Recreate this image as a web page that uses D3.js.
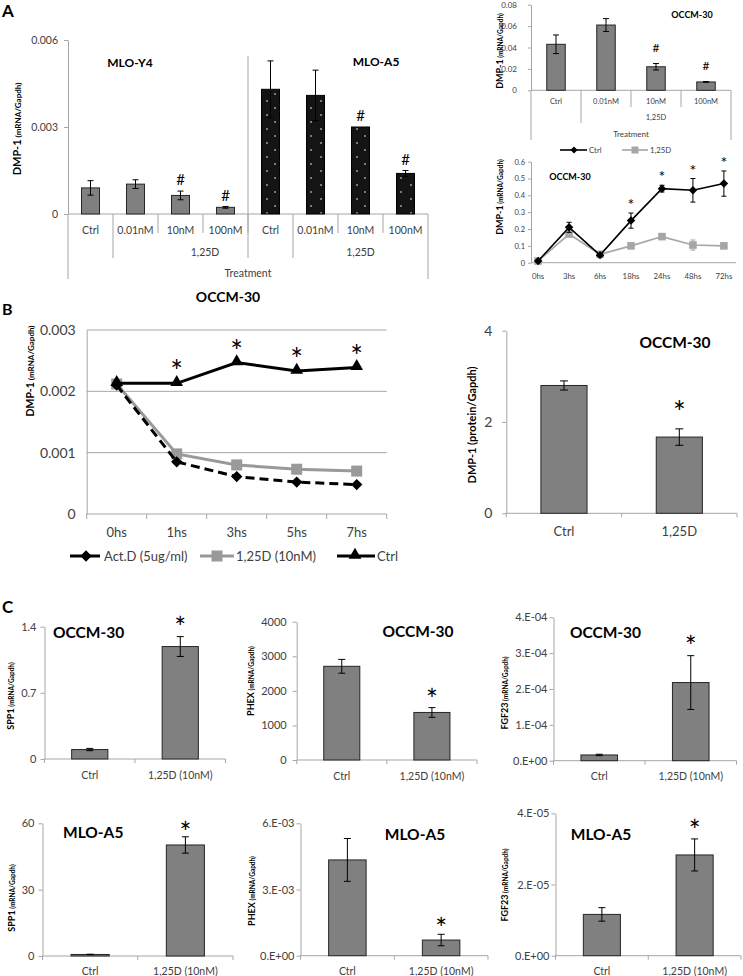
<!DOCTYPE html>
<html><head><meta charset="utf-8">
<script src="https://cdn.jsdelivr.net/npm/d3@7"></script>
<style>body{margin:0;background:#fff}svg{display:block}</style>
</head><body>
<svg id="c" width="743" height="976"></svg>
<script>
// ================= DATA =================
// Panel A (left): MLO-Y4 / MLO-A5 dose response
const aDoseCats = ["Ctrl", "0.01nM", "10nM", "100nM"];
const aY4Vals = [0.00090, 0.00103, 0.00064, 0.00023];
const aY4Errs = [0.00025, 0.00015, 0.00015, 0.00003];
const aY4Marks = ["", "", "#", "#"];
const aA5Vals = [0.00430, 0.00409, 0.00300, 0.00140];
const aA5Errs = [0.00098, 0.00087, 0.0, 0.00010];
const aA5Marks = ["", "", "#", "#"];
const aLeftTicks = [0, 0.003, 0.006];

// Panel A (right top): OCCM-30 dose response
const aOcVals = [0.043, 0.061, 0.022, 0.0078];
const aOcErrs = [0.0087, 0.006, 0.003, 0.0003];
const aOcMarks = ["", "", "#", "#"];
const aOcTicks = [0, 0.02, 0.04, 0.06, 0.08];

// Panel A (right bottom): OCCM-30 time course
const tCats = ["0hs", "3hs", "6hs", "18hs", "24hs", "48hs", "72hs"];
const tCtrlVals = [0.01, 0.21, 0.045, 0.25, 0.44, 0.43, 0.47];
const tCtrlErrs = [0.005, 0.03, 0.01, 0.045, 0.02, 0.07, 0.075];
const t125Vals = [0.01, 0.17, 0.05, 0.10, 0.155, 0.105, 0.10];
const t125Errs = [0.005, 0.01, 0.01, 0.01, 0.01, 0.03, 0.01];
const tStars = ["", "", "", "*", "*", "*", "*"];
const tTicks = [0, 0.1, 0.2, 0.3, 0.4, 0.5, 0.6];

// Panel B (left): mRNA decay
const bCats = ["0hs", "1hs", "3hs", "5hs", "7hs"];
const bActD = [0.00210, 0.00085, 0.00061, 0.00052, 0.00048];
const b125D = [0.00212, 0.00098, 0.00080, 0.00073, 0.00070];
const bCtrl = [0.00213, 0.00213, 0.00247, 0.00233, 0.00239];
const bStars = ["", "*", "*", "*", "*"];
const bTicks = [0, 0.001, 0.002, 0.003];

// Panel B (right): protein
const pCats = ["Ctrl", "1,25D"];
const pVals = [2.80, 1.67];
const pErrs = [0.10, 0.18];
const pStars = ["", "*"];
const pTicks = [0, 2, 4];

// Panel C
const cCats = ["Ctrl", "1,25D (10nM)"];
const cStars = ["", "*"];
const spp1OcVals = [0.10, 1.19], spp1OcErrs = [0.012, 0.105], spp1OcTicks = [0, 0.7, 1.4];
const phexOcVals = [2710, 1375], phexOcErrs = [200, 140], phexOcTicks = [0, 1000, 2000, 3000, 4000];
const fgfOcVals = [1.6e-5, 2.18e-4], fgfOcErrs = [0.2e-5, 0.75e-4], fgfOcTicks = [0, 1e-4, 2e-4, 3e-4, 4e-4];
const spp1A5Vals = [0.7, 50.2], spp1A5Errs = [0.1, 3.7], spp1A5Ticks = [0, 30, 60];
const phexA5Vals = [4.34e-3, 0.71e-3], phexA5Errs = [0.97e-3, 0.26e-3], phexA5Ticks = [0, 3e-3, 6e-3];
const fgfA5Vals = [1.16e-5, 2.83e-5], fgfA5Errs = [0.19e-5, 0.45e-5], fgfA5Ticks = [0, 2e-5, 4e-5];

// ================= DRAWING =================
const FONT = "Lato, 'Open Sans', sans-serif";
const AX = "#a6a6a6", TX = "#404040", BAR = "#808080", BST = "#262626";
const svg = d3.select("#c").attr("font-family", FONT);

function txt(g, x, cy, s, fs, o = {}) {
  return g.append("text").attr("x", x).attr("y", cy + 0.35 * fs)
    .attr("font-size", fs).attr("font-weight", o.bold ? "bold" : "normal")
    .attr("fill", o.fill || "#000").attr("text-anchor", o.anchor || "middle").text(s);
}
function star(g, x, cy, fs, s = "*") {
  g.append("text").attr("x", x).attr("y", cy + 0.57 * fs).attr("font-size", fs)
    .attr("text-anchor", "middle").attr("fill", "#000").text(s);
}
function hash(g, x, cy, fs, s = "#") {
  g.append("text").attr("x", x).attr("y", cy + 0.36 * fs).attr("font-size", fs)
    .attr("text-anchor", "middle").attr("fill", "#000").text(s);
}
function line(g, x1, y1, x2, y2, c = AX, w = 1) {
  g.append("line").attr("x1", x1).attr("y1", y1).attr("x2", x2).attr("y2", y2)
    .attr("stroke", c).attr("stroke-width", w);
}
function yLabel(g, cx, cy, parts, mainFs) {
  const t = g.append("text").attr("transform", `translate(${cx},${cy}) rotate(-90)`)
    .attr("y", 0.35 * mainFs).attr("text-anchor", "middle").attr("font-weight", "bold").attr("fill", "#000");
  parts.forEach(p => t.append("tspan").attr("font-size", p[1]).text(p[0]));
}
function yAxis(g, y, x, ticks, fmt, fs, size, pad) {
  const a = g.append("g").attr("transform", `translate(${x},0)`)
    .call(d3.axisLeft(y).tickValues(ticks).tickFormat(fmt).tickSize(size).tickSizeOuter(0).tickPadding(pad));
  a.attr("font-family", FONT).attr("font-size", fs);
  a.select(".domain").attr("stroke", AX);
  a.selectAll(".tick line").attr("stroke", AX);
  a.selectAll(".tick text").attr("fill", TX);
  return a;
}
function errBar(g, cx, y, v, e, cap, c = "#000", w = 1) {
  if (!e) return;
  line(g, cx, y(v + e), cx, y(Math.max(0, v - e)), c, w);
  line(g, cx - cap / 2, y(v + e), cx + cap / 2, y(v + e), c, w);
  line(g, cx - cap / 2, y(Math.max(0, v - e)), cx + cap / 2, y(Math.max(0, v - e)), c, w);
}
const expFmt = d => {
  if (d === 0) return "0.E+00";
  const e = Math.floor(Math.log10(d) + 1e-9);
  const m = Math.round(d / Math.pow(10, e));
  return m + ".E" + (e < 0 ? "-" : "+") + String(Math.abs(e)).padStart(2, "0");
};

// panel letters
txt(svg, 2, 11, "A", 17, {bold: true, anchor: "start"});
txt(svg, 2, 309, "B", 16, {bold: true, anchor: "start"});
txt(svg, 2, 607, "C", 17, {bold: true, anchor: "start"});

// pattern for MLO-A5 bars
const defs = svg.append("defs");
const pat = defs.append("pattern").attr("id", "dots").attr("patternUnits", "userSpaceOnUse")
  .attr("x", 262).attr("y", 0).attr("width", 18).attr("height", 14);
pat.append("rect").attr("width", 18).attr("height", 14).attr("fill", "#141414");
pat.append("circle").attr("cx", 5).attr("cy", 3).attr("r", 0.8).attr("fill", "#fff");
pat.append("circle").attr("cx", 13).attr("cy", 10).attr("r", 0.8).attr("fill", "#fff");

// ---------- Panel A left ----------
(function () {
  const g = svg.append("g");
  const keys = [...aDoseCats.map(c => "Y4|" + c), ...aDoseCats.map(c => "A5|" + c)];
  const vals = [...aY4Vals, ...aA5Vals], errs = [...aY4Errs, ...aA5Errs], marks = [...aY4Marks, ...aA5Marks];
  const x = d3.scaleBand().domain(keys).range([68, 428]).paddingInner(0.6).paddingOuter(0.3);
  const y = d3.scaleLinear().domain([0, 0.006]).range([214, 40]);
  yAxis(g, y, 68, aLeftTicks, d => d === 0 ? "0" : d3.format(".3f")(d), 10.5, 4, 6);
  line(g, 68, 214, 68, 279);
  line(g, 68, 214, 428, 214);
  const st = x.step();
  for (let i = 1; i <= 8; i++) {
    const xx = 68 + i * st;
    let y2 = 233;
    if (i === 1 || i === 5) y2 = 258;
    if (i === 8) y2 = 279;
    line(g, xx, 214, xx, y2);
  }
  line(g, 68 + 4 * st, 56, 68 + 4 * st, 258);
  g.selectAll("rect.bar").data(vals).join("rect").attr("class", "bar")
    .attr("x", (d, i) => x(keys[i])).attr("width", x.bandwidth())
    .attr("y", d => y(d)).attr("height", d => 214 - y(d))
    .attr("fill", (d, i) => i < 4 ? BAR : "url(#dots)")
    .attr("stroke", (d, i) => i < 4 ? BST : "#000").attr("stroke-width", 1);
  vals.forEach((v, i) => {
    const cx = x(keys[i]) + x.bandwidth() / 2;
    errBar(g, cx, y, v, errs[i], 6);
    if (marks[i]) hash(g, cx, y(v + errs[i]) - 11, 15, marks[i]);
  });
  keys.forEach((k, i) => txt(g, x(k) + x.bandwidth() / 2, 230, aDoseCats[i % 4], 10.5, {fill: TX}));
  txt(g, 205, 252, "1,25D", 10.5, {fill: TX});
  txt(g, 68 + 6.5 * st, 252, "1,25D", 10.5, {fill: TX});
  txt(g, 248, 273, "Treatment", 10.5, {fill: TX});
  txt(g, 130, 63, "MLO-Y4", 12, {bold: true});
  txt(g, 376, 62, "MLO-A5", 12, {bold: true});
  yLabel(g, 17, 129, [["DMP-1", 11], [" (mRNA/Gapdh)", 8]], 11);
})();

// ---------- Panel A right top ----------
(function () {
  const g = svg.append("g");
  const x = d3.scaleBand().domain(aDoseCats).range([531, 731]).paddingInner(0.63).paddingOuter(0.315);
  const y = d3.scaleLinear().domain([0, 0.08]).range([90.3, 4.7]);
  yAxis(g, y, 531, aOcTicks, d => d === 0 ? "0" : d3.format(".2f")(d), 8, 3, 11);
  line(g, 531, 90.3, 531, 140);
  line(g, 531, 90.3, 731, 90.3);
  const st = x.step();
  for (let i = 1; i <= 4; i++) {
    const xx = 531 + i * st;
    line(g, xx, 90.3, xx, i === 1 ? 123 : (i === 4 ? 140 : 107));
  }
  g.selectAll("rect.bar").data(aOcVals).join("rect").attr("class", "bar")
    .attr("x", (d, i) => x(aDoseCats[i])).attr("width", x.bandwidth())
    .attr("y", d => y(d)).attr("height", d => 90.3 - y(d))
    .attr("fill", BAR).attr("stroke", BST).attr("stroke-width", 1);
  aOcVals.forEach((v, i) => {
    const cx = x(aDoseCats[i]) + x.bandwidth() / 2;
    errBar(g, cx, y, v, aOcErrs[i], 6);
    if (aOcMarks[i]) hash(g, cx, y(v + aOcErrs[i]) - 16, 12, aOcMarks[i]);
  });
  aDoseCats.forEach(c => txt(g, x(c) + x.bandwidth() / 2, 101, c, 7.5, {fill: TX}));
  txt(g, 656, 117, "1,25D", 7.5, {fill: TX});
  txt(g, 631, 134, "Treatment", 8, {fill: TX});
  txt(g, 692, 15, "OCCM-30", 9, {bold: true});
  yLabel(g, 500, 51, [["DMP-1", 9], [" (mRNA/Gapdh)", 6.5]], 9);
})();

// ---------- Panel A right bottom ----------
(function () {
  const g = svg.append("g");
  const x = d3.scalePoint().domain(tCats).range([531, 731]).padding(0.23);
  const y = d3.scaleLinear().domain([0, 0.6]).range([262.7, 161.7]);
  yAxis(g, y, 531, tTicks, d => d === 0 ? "0" : d3.format(".1f")(d), 7.5, 3, 3);
  line(g, 531, 262.7, 736, 262.7);
  tCats.forEach(c => txt(g, x(c), 276, c, 7.8, {fill: TX}));
  const ln = d3.line().x((d, i) => x(tCats[i])).y(d => y(d));
  const G2 = "#a6a6a6";
  g.append("path").attr("d", ln(t125Vals)).attr("fill", "none").attr("stroke", G2).attr("stroke-width", 1.6);
  t125Vals.forEach((v, i) => errBar(g, x(tCats[i]), y, v, t125Errs[i], 5, G2));
  g.selectAll("rect.sq").data(t125Vals).join("rect").attr("class", "sq")
    .attr("x", (d, i) => x(tCats[i]) - 3.8).attr("y", d => y(d) - 3.8)
    .attr("width", 7.6).attr("height", 7.6).attr("fill", G2);
  g.append("path").attr("d", ln(tCtrlVals)).attr("fill", "none").attr("stroke", "#000").attr("stroke-width", 1.6);
  tCtrlVals.forEach((v, i) => errBar(g, x(tCats[i]), y, v, tCtrlErrs[i], 5));
  g.selectAll("rect.dm").data(tCtrlVals).join("rect").attr("class", "dm")
    .attr("x", -3).attr("y", -3).attr("width", 6).attr("height", 6).attr("fill", "#000")
    .attr("transform", (d, i) => `translate(${x(tCats[i])},${y(d)}) rotate(45)`);
  tStars.forEach((s, i) => { if (s) star(g, x(tCats[i]), y(tCtrlVals[i] + tCtrlErrs[i]) - 12, 16, s); });
  // legend
  line(g, 560, 150, 587, 150, "#000", 1.6);
  g.append("rect").attr("x", -2.5).attr("y", -2.5).attr("width", 5).attr("height", 5).attr("fill", "#000")
    .attr("transform", "translate(574,150) rotate(45)");
  txt(g, 589, 150, "Ctrl", 7.8, {fill: TX, anchor: "start"});
  line(g, 622, 150, 648, 150, G2, 1.6);
  g.append("rect").attr("x", 631.5).attr("y", 146.5).attr("width", 7).attr("height", 7).attr("fill", G2);
  txt(g, 650, 150, "1,25D", 7.8, {fill: TX, anchor: "start"});
  txt(g, 570, 177, "OCCM-30", 9, {bold: true});
  yLabel(g, 500, 197, [["DMP-1", 9], [" (mRNA/Gapdh)", 6.5]], 9);
})();

// ---------- Panel B left ----------
(function () {
  const g = svg.append("g");
  const x = d3.scaleBand().domain(bCats).range([86.7, 386.7]);
  const y = d3.scaleLinear().domain([0, 0.003]).range([514, 330]);
  bTicks.slice(1).forEach(t => line(g, 86.7, y(t), 386.7, y(t), AX, 1));
  yAxis(g, y, 86.7, bTicks, d => d === 0 ? "0" : d3.format(".3f")(d), 14, 0, 11);
  line(g, 86.7, 514, 386.7, 514);
  for (let i = 0; i <= 5; i++) { const xx = 86.7 + i * x.step(); line(g, xx, 514, xx, 519); }
  bCats.forEach(c => txt(g, x(c) + x.step() / 2, 532, c, 13, {fill: TX}));
  const cx = c => x(c) + x.step() / 2;
  const ln = d3.line().x((d, i) => cx(bCats[i])).y(d => y(d));
  const G2 = "#999999";
  // 1,25D
  g.append("path").attr("d", ln(b125D)).attr("fill", "none").attr("stroke", G2).attr("stroke-width", 3);
  g.selectAll("rect.sq").data(b125D).join("rect").attr("class", "sq")
    .attr("x", (d, i) => cx(bCats[i]) - 5.5).attr("y", d => y(d) - 5.5)
    .attr("width", 11).attr("height", 11).attr("fill", G2);
  // Act.D
  g.append("path").attr("d", ln(bActD)).attr("fill", "none").attr("stroke", "#000").attr("stroke-width", 3)
    .attr("stroke-dasharray", "9,5");
  g.selectAll("rect.dm").data(bActD).join("rect").attr("class", "dm")
    .attr("x", -4).attr("y", -4).attr("width", 8).attr("height", 8).attr("fill", "#000")
    .attr("transform", (d, i) => `translate(${cx(bCats[i])},${y(d)}) rotate(45)`);
  // Ctrl
  g.append("path").attr("d", ln(bCtrl)).attr("fill", "none").attr("stroke", "#000").attr("stroke-width", 3);
  const tri = d3.symbol(d3.symbolTriangle, 70);
  g.selectAll("path.tri").data(bCtrl).join("path").attr("class", "tri").attr("d", tri)
    .attr("transform", (d, i) => `translate(${cx(bCats[i])},${y(d) - 1})`).attr("fill", "#000");
  bStars.forEach((s, i) => { if (s) star(g, cx(bCats[i]), y(bCtrl[i]) - 18, 30, s); });
  // legend
  line(g, 70, 556, 100, 556, "#000", 3);
  g.append("rect").attr("x", -4).attr("y", -4).attr("width", 8).attr("height", 8).attr("fill", "#000")
    .attr("transform", "translate(86,556) rotate(45)");
  txt(g, 104, 556, "Act.D (5ug/ml)", 13, {fill: TX, anchor: "start"});
  line(g, 200, 556, 234, 556, G2, 3);
  g.append("rect").attr("x", 211.5).attr("y", 550.5).attr("width", 11).attr("height", 11).attr("fill", G2);
  txt(g, 236, 556, "1,25D (10nM)", 13, {fill: TX, anchor: "start"});
  line(g, 337, 556, 375, 556, "#000", 3);
  g.append("path").attr("d", tri).attr("transform", "translate(355,555)").attr("fill", "#000");
  txt(g, 377, 556, "Ctrl", 13, {fill: TX, anchor: "start"});
  txt(g, 228, 297, "OCCM-30", 14, {bold: true});
  yLabel(g, 30, 371, [["DMP-1", 10.5], [" (mRNA/Gapdh)", 8]], 10.5);
})();

// ---------- generic two-bar panel ----------
function barPanel(o) {
  const g = svg.append("g");
  const bw = o.bw || 0.4;
  const x = d3.scaleBand().domain(o.cats).range([o.x0, o.x1]).paddingInner(1 - bw).paddingOuter((1 - bw) / 2);
  const y = d3.scaleLinear().domain([0, o.max]).range([o.yBot, o.yTop]);
  yAxis(g, y, o.x0, o.ticks, o.fmt, o.tfs, 4, o.tpad);
  line(g, o.x0, o.yBot, o.x1, o.yBot);
  for (let i = 0; i <= o.cats.length; i++) { const xx = o.x0 + i * x.step(); line(g, xx, o.yBot, xx, o.yBot + 4); }
  g.selectAll("rect.bar").data(o.vals).join("rect").attr("class", "bar")
    .attr("x", (d, i) => x(o.cats[i])).attr("width", x.bandwidth())
    .attr("y", d => y(d)).attr("height", d => o.yBot - y(d))
    .attr("fill", BAR).attr("stroke", BST).attr("stroke-width", 1);
  o.vals.forEach((v, i) => {
    const cx = x(o.cats[i]) + x.bandwidth() / 2;
    errBar(g, cx, y, v, o.errs[i], o.cap || 7);
    if (o.stars[i]) star(g, cx, y(v + o.errs[i]) - o.starGap, o.sfs, o.stars[i]);
  });
  o.cats.forEach(c => txt(g, x(c) + x.bandwidth() / 2, o.xlY, c, o.xfs, {fill: TX}));
  txt(g, o.titleX, o.titleY, o.title, o.titleFs, {bold: true, anchor: o.titleAnchor || "middle"});
  yLabel(g, o.ylX, o.ylY, o.ylParts, o.ylParts[0][1]);
}

// ---------- Panel B right ----------
barPanel({cats: pCats, vals: pVals, errs: pErrs, stars: pStars, x0: 506.3, x1: 737, yBot: 513.3, yTop: 330.7,
  max: 4, ticks: pTicks, fmt: d3.format("d"), tfs: 14, tpad: 10, cap: 8, starGap: 23, sfs: 30,
  xlY: 531, xfs: 13, title: "OCCM-30", titleX: 675, titleY: 343, titleFs: 15.5,
  ylX: 472, ylY: 425, ylParts: [["DMP-1 (protein/Gapdh)", 11]]});

// ---------- Panel C ----------
const cYL = [["SPP1", 9], [" (mRNA/Gapdh)", 6.5]];
barPanel({cats: cCats, vals: spp1OcVals, errs: spp1OcErrs, stars: cStars, x0: 44.5, x1: 225.5, yBot: 759, yTop: 626.7,
  max: 1.4, ticks: spp1OcTicks, fmt: d => d === 0 ? "0" : d3.format(".1f")(d), tfs: 11, tpad: 4, starGap: 15, sfs: 28,
  xlY: 775, xfs: 10.5, title: "OCCM-30", titleX: 53, titleY: 633, titleFs: 15.5, titleAnchor: "start",
  ylX: 11, ylY: 696, ylParts: cYL});
barPanel({cats: cCats, vals: phexOcVals, errs: phexOcErrs, stars: cStars, x0: 296.7, x1: 477, yBot: 760, yTop: 621.7,
  max: 4000, ticks: phexOcTicks, fmt: d3.format("d"), tfs: 11, tpad: 6, starGap: 14, sfs: 28,
  xlY: 776, xfs: 10.5, title: "OCCM-30", titleX: 418, titleY: 632, titleFs: 15.5,
  ylX: 251, ylY: 681, ylParts: [["PHEX", 9], [" (mRNA/Gapdh)", 6.5]]});
barPanel({cats: cCats, vals: fgfOcVals, errs: fgfOcErrs, stars: cStars, x0: 553.5, x1: 736.5, yBot: 760.7, yTop: 617.3,
  max: 4e-4, ticks: fgfOcTicks, fmt: expFmt, tfs: 11, tpad: 2, starGap: 15, sfs: 28,
  xlY: 776, xfs: 10.5, title: "OCCM-30", titleX: 605.5, titleY: 633, titleFs: 15.5,
  ylX: 505, ylY: 693, ylParts: [["FGF23", 9], [" (mRNA/Gapdh)", 6.5]]});
barPanel({cats: cCats, vals: spp1A5Vals, errs: spp1A5Errs, stars: cStars, x0: 42.5, x1: 233, yBot: 956, yTop: 823.3,
  max: 60, ticks: spp1A5Ticks, fmt: d3.format("d"), tfs: 11, tpad: 4, starGap: 10, sfs: 28,
  xlY: 971.5, xfs: 10.5, title: "MLO-A5", titleX: 63, titleY: 833, titleFs: 15.5, titleAnchor: "start",
  ylX: 12, ylY: 898, ylParts: cYL});
barPanel({cats: cCats, vals: phexA5Vals, errs: phexA5Errs, stars: cStars, x0: 300.5, x1: 488, yBot: 955.7, yTop: 823.3,
  max: 6e-3, ticks: phexA5Ticks, fmt: expFmt, tfs: 11, tpad: 2, starGap: 11, sfs: 28,
  xlY: 971.5, xfs: 10.5, title: "MLO-A5", titleX: 415, titleY: 835, titleFs: 15.5,
  ylX: 252, ylY: 891, ylParts: [["PHEX", 9], [" (mRNA/Gapdh)", 6.5]]});
barPanel({cats: cCats, vals: fgfA5Vals, errs: fgfA5Errs, stars: cStars, x0: 555.5, x1: 741, yBot: 955.7, yTop: 813.3,
  max: 4e-5, ticks: fgfA5Ticks, fmt: expFmt, tfs: 11, tpad: 2, starGap: 14, sfs: 28,
  xlY: 971.5, xfs: 10.5, title: "MLO-A5", titleX: 601, titleY: 835, titleFs: 15.5,
  ylX: 505, ylY: 885, ylParts: [["FGF23", 9], [" (mRNA/Gapdh)", 6.5]]});
</script>
</body></html>
